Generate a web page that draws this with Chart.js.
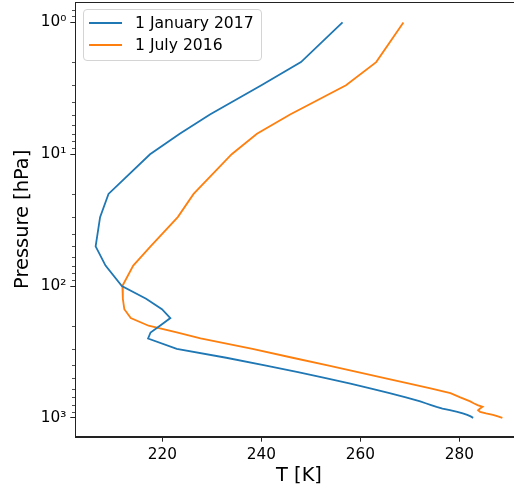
<!DOCTYPE html>
<html><head><meta charset="utf-8">
<script src="https://cdn.jsdelivr.net/npm/chart.js@4.4.0/dist/chart.umd.min.js"></script>
<style>
html,body{margin:0;padding:0;background:#fff;overflow:hidden;}
#wrap{position:relative;width:514px;height:488px;overflow:hidden;background:#fff;}
#c{position:absolute;left:0;top:0;}
#legend{position:absolute;left:83px;top:9px;width:179px;height:52px;box-sizing:border-box;border:1px solid #d4d4d4;border-radius:4px;background:rgba(255,255,255,0.8);font-family:"DejaVu Sans";font-size:15.6px;color:#000;}
.swatch{position:absolute;left:5px;width:33px;height:2px;}
.lbl{position:absolute;left:51px;height:20px;line-height:20px;white-space:nowrap;}
</style></head>
<body><div id="wrap"><canvas id="c" width="540" height="488"></canvas><div id="legend"></div></div>
<script>
const pressureLevels = [1,2,3,5,7,10,20,30,50,70,100,125,150,175,200,225,250,300,350,400,450,500,550,600,650,700,750,775,800,825,850,875,900,925,950,975,1000];
const tempJan2017 = [256.4,248.0,240.0,229.6,223.5,217.5,209.1,207.4,206.5,208.5,211.8,216.7,219.9,221.6,219.5,217.6,217.1,222.9,232.9,240.7,247.4,253.0,258.0,262.2,265.9,269.2,272.1,273.2,274.3,275.4,276.6,278.1,279.6,280.7,281.6,282.3,282.8];
const tempJul2016 = [268.7,263.2,257.1,245.8,239.1,234.0,226.3,223.1,217.6,214.1,211.9,212.0,212.3,213.6,217.2,222.9,227.7,238.2,246.3,253.4,259.5,264.9,269.9,274.4,278.2,280.2,282.2,282.9,283.7,284.7,284.2,283.8,284.2,285.4,286.8,287.8,288.7];
const seriesLabels = ['1 January 2017','1 July 2016'];
const seriesColors = ['#1f77b4','#ff7f0e'];
const xTicks = [220,240,260,280];
const yTicks = [1,10,100,1000];
const yTickLabels = ['10\u2070','10\u00b9','10\u00b2','10\u00b3'];
const xTitle = 'T [K]';
const yTitle = 'Pressure [hPa]';
const xRange = [202.39, 292.81];
const yRange = [0.72, 1390];

const yMinorTicks = [];
for (let e = -1; e <= 3; e++) for (let m = 2; m <= 9; m++) {
  const v = m * Math.pow(10, e);
  if (v >= yRange[0] && v <= yRange[1]) yMinorTicks.push(v);
}

const toPts = temps => temps.map((t, i) => ({x: t, y: pressureLevels[i]}));
const FONT = 'DejaVu Sans';
const AX = '#222';

const framePlugin = {
  id: 'frame',
  afterDraw(chart) {
    const {ctx, chartArea: a, scales} = chart;
    ctx.save();
    ctx.strokeStyle = AX; ctx.lineWidth = 1;
    ctx.strokeRect(Math.round(a.left) + 0.5, Math.round(a.top) + 0.5, Math.round(a.right - a.left), Math.round(a.bottom - a.top));
    const ys = scales.y;
    ctx.beginPath();
    yMinorTicks.forEach(v => {
      const py = Math.round(ys.getPixelForValue(v)) + 0.5;
      ctx.moveTo(Math.round(a.left) - 3, py);
      ctx.lineTo(Math.round(a.left), py);
    });
    ctx.lineWidth = 0.8;
    ctx.stroke();
    ctx.restore();
  }
};

const chart = new Chart(document.getElementById('c').getContext('2d'), {
  type: 'scatter',
  data: {
    datasets: [
      {label: seriesLabels[0], data: toPts(tempJan2017), borderColor: seriesColors[0], backgroundColor: seriesColors[0], showLine: true, pointRadius: 0, borderWidth: 1.8, tension: 0, fill: false},
      {label: seriesLabels[1], data: toPts(tempJul2016), borderColor: seriesColors[1], backgroundColor: seriesColors[1], showLine: true, pointRadius: 0, borderWidth: 1.8, tension: 0, fill: false}
    ]
  },
  options: {
    responsive: false, animation: false, devicePixelRatio: 1,
    layout: {padding: {left: 0, top: 2, right: 17.3, bottom: 0}},
    plugins: {legend: {display: false}, tooltip: {enabled: false}},
    scales: {
      x: {
        type: 'linear', min: xRange[0], max: xRange[1],
        afterBuildTicks: s => { s.ticks = xTicks.map(v => ({value: v})); },
        afterFit: s => { s.height = 51.3; s.paddingLeft = 0; s.paddingRight = 0; },
        grid: {display: true, drawOnChartArea: false, drawTicks: true, tickLength: 5, tickColor: AX, tickWidth: 1},
        border: {display: true, color: AX, width: 1},
        ticks: {font: {family: FONT, size: 15.3}, color: '#000', padding: 4, maxRotation: 0, autoSkip: false, callback: v => String(v)},
        title: {display: true, text: xTitle, font: {family: FONT, size: 19.4}, color: '#000', padding: {top: 0, bottom: 0}}
      },
      y: {
        type: 'logarithmic', reverse: true, min: yRange[0], max: yRange[1],
        afterBuildTicks: s => { s.ticks = yTicks.map(v => ({value: v})); },
        afterFit: s => { s.width = 75.3; s.paddingTop = 0; s.paddingBottom = 0; },
        grid: {display: true, drawOnChartArea: false, drawTicks: true, tickLength: 5, tickColor: AX, tickWidth: 1},
        border: {display: true, color: AX, width: 1},
        ticks: {font: {family: FONT, size: 15.3}, color: '#000', padding: 4, autoSkip: false,
                callback: v => { const i = yTicks.indexOf(v); return i >= 0 ? yTickLabels[i] : ''; }},
        title: {display: true, text: yTitle, font: {family: FONT, size: 19.4}, color: '#000', padding: {top: 11, bottom: 0}}
      }
    }
  },
  plugins: [framePlugin]
});

// HTML legend built from the chart's datasets
const leg = document.getElementById('legend');
const rowY = [13.7, 36.3];
chart.data.datasets.forEach((ds, i) => {
  const sw = document.createElement('div');
  sw.className = 'swatch';
  sw.style.top = (rowY[i] - 1 - 1) + 'px';
  sw.style.background = ds.borderColor;
  leg.appendChild(sw);
  const lb = document.createElement('div');
  lb.className = 'lbl';
  lb.style.top = (rowY[i] - 1 - 10) + 'px';
  lb.textContent = ds.label;
  leg.appendChild(lb);
});
</script>
</body></html>
